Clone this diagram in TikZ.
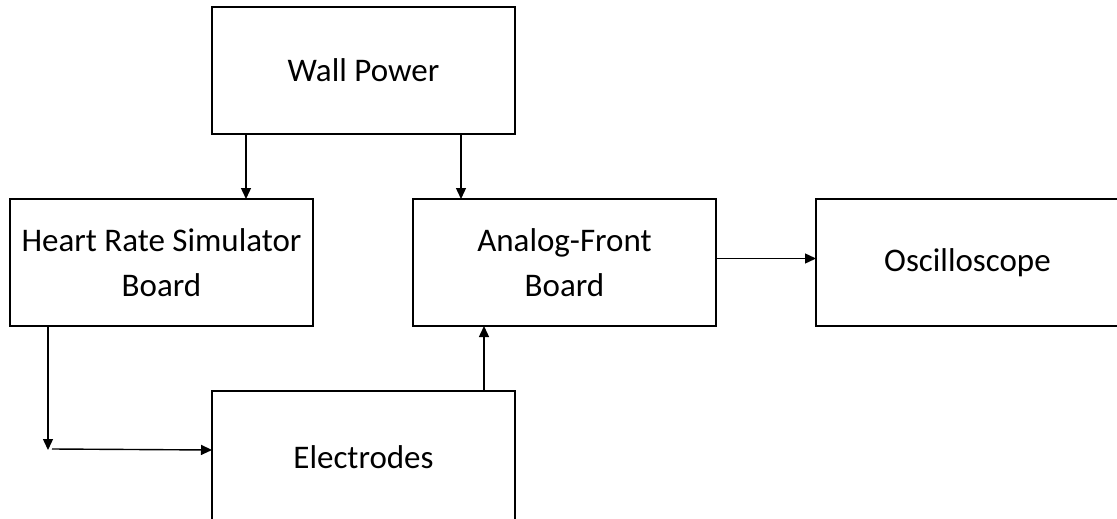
\documentclass[tikz,border=0pt]{standalone}
\usepackage{fontspec}
\setmainfont{Carlito}
\usepackage{tikz}
\usetikzlibrary{arrows.meta, positioning}

\begin{document}
\begin{tikzpicture}[
    x=1pt, y=-1pt,
    node distance=65pt and 100pt,
    blockbox/.style={rectangle, draw=black, line width=2.6pt, outer sep=0pt, align=center, minimum height=127pt, minimum width=303pt, font=\fontsize{33}{45}\selectfont},
    arrowline/.style={-{Triangle[length=11pt, width=10pt]}, line width=1.4pt, draw=black}
]
    \clip (0,0) rectangle (1117,519);

    \node[blockbox] (wall) at (363.5,70.5) {Wall Power};

    \node[blockbox, below left=65pt and -101pt of wall] (hrs) {Heart Rate Simulator\\Board};
    \node[blockbox, right=100pt of hrs] (afe) {Analog-Front\\Board};
    \node[blockbox, right=100pt of afe] (osc) {Oscilloscope};

    \node[blockbox, minimum height=133pt, below right=65pt and -101pt of hrs] (elec) {Electrodes};

    \coordinate (turn) at ([xshift=38pt]hrs.south west |- 0,450);

    \draw[arrowline] ([xshift=34pt]wall.south west) -- ([xshift=34pt]wall.south west |- hrs.north);
    \draw[arrowline] ([xshift=-54pt]wall.south east) -- ([xshift=-54pt]wall.south east |- afe.north);
    \draw[arrowline] ([yshift=4pt]afe.east) -- ([yshift=4pt]afe.east -| osc.west);
    \draw[arrowline] ([xshift=38pt]hrs.south west) -- (turn);
    \draw[arrowline] ([xshift=4pt, yshift=1pt]turn) -- (turn -| elec.west);
    \draw[arrowline] ([xshift=-31pt]elec.north east) -- ([xshift=-31pt]elec.north east |- afe.south);
\end{tikzpicture}
\end{document}
